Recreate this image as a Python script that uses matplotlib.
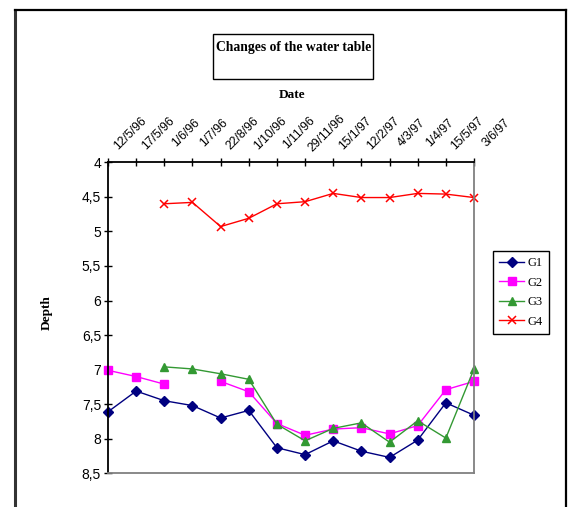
import numpy as np
import matplotlib
matplotlib.use('Agg')
import matplotlib.pyplot as plt
import matplotlib.transforms as mtransforms
from matplotlib.patches import Rectangle

W, H = 569, 507

dates = ['12/5/96', '17/5/96', '1/6/96', '1/7/96', '22/8/96', '1/10/96', '1/11/96',
         '29/11/96', '15/1/97', '12/2/97', '4/3/97', '1/4/97', '15/5/97', '3/6/97']
nan = np.nan
g1 = [7.61, 7.31, 7.45, 7.52, 7.70, 7.59, 8.13, 8.23, 8.03, 8.18, 8.27, 8.02, 7.48, 7.66]
g2 = [7.01, 7.10, 7.21, nan, 7.17, 7.32, 7.78, 7.95, 7.86, 7.84, 7.93, 7.81, 7.29, 7.17]
g3 = [nan, nan, 6.96, 6.99, 7.06, 7.14, 7.79, 8.03, 7.85, 7.77, 8.05, 7.74, 7.99, 6.99]
g4 = [nan, nan, 4.60, 4.58, 4.93, 4.81, 4.60, 4.57, 4.45, 4.51, 4.51, 4.45, 4.46, 4.51]
yticks = [4, 4.5, 5, 5.5, 6, 6.5, 7, 7.5, 8, 8.5]
ytick_labels = ['4', '4,5', '5', '5,5', '6', '6,5', '7', '7,5', '8', '8,5']

fig = plt.figure(figsize=(W / 100, H / 100), dpi=100)

# outer frame
fig.add_artist(plt.Line2D([15 / W, 15 / W], [0, 1 - 10 / H], color='#333333', lw=2.2, transform=fig.transFigure))
fig.add_artist(plt.Line2D([15 / W, 566 / W], [1 - 10 / H, 1 - 10 / H], color='black', lw=1.6, transform=fig.transFigure))
fig.add_artist(plt.Line2D([566 / W, 566 / W], [0, 1 - 10 / H], color='black', lw=1.6, transform=fig.transFigure))

# title box
fig.add_artist(Rectangle((213 / W, 1 - 79 / H), 160 / W, 45 / H, fill=False, ec='black', lw=1,
                         transform=fig.transFigure))
fig.text(294 / W, 1 - 47 / H, 'Changes of the water table', ha='center', va='center',
         family='Liberation Serif', weight='bold', fontsize=9.8)

ax = fig.add_axes([108 / W, 1 - 473.3 / H, 366 / W, 311 / H])
x = np.arange(len(dates))
ax.plot(x, g1, color='#000080', marker='D', ms=4.8, lw=1, label='G1', clip_on=False)
ax.plot(x, g2, color='#FF00FF', marker='s', ms=5.5, lw=1, label='G2', clip_on=False)
ax.plot(x, g3, color='#339933', marker='^', ms=6, lw=1, label='G3', clip_on=False)
ax.plot(x, g4, color='#FF0000', marker='x', ms=6, mew=1.1, lw=1, label='G4', clip_on=False)

ax.set_xlim(0, len(dates) - 1)
ax.set_ylim(8.5, 4)
ax.xaxis.tick_top()
ax.set_xticks(x)
ax.set_xticklabels([])
# rotated date labels, centred a little up and right of each tick
shift = mtransforms.ScaledTranslation(22 / 100, 29 / 100, fig.dpi_scale_trans)
for xi, d in zip(x, dates):
    ax.text(xi, 1, d, transform=ax.get_xaxis_transform() + shift, rotation=45,
            rotation_mode='anchor', ha='center', va='center',
            family='Liberation Sans', fontsize=8.8, clip_on=False)
ax.set_yticks(yticks)
ax.set_yticklabels(ytick_labels, family='Liberation Sans', fontsize=10)
ax.tick_params(axis='both', direction='inout', length=6, width=1, color='black')
ax.tick_params(axis='y', pad=2)

ax.spines['top'].set_color('black')
ax.spines['left'].set_color('black')
ax.spines['right'].set_color('#808080')
ax.spines['bottom'].set_color('#808080')
for s in ax.spines.values():
    s.set_linewidth(1.3)

fig.text(292 / W, 1 - 95 / H, 'Date', ha='center', va='center',
         family='Liberation Serif', weight='bold', fontsize=9.5)
fig.text(47 / W, 1 - 313 / H, 'Depth', rotation=90, ha='center', va='center',
         family='Liberation Serif', weight='bold', fontsize=9.5)

leg = ax.legend(loc='upper left', bbox_to_anchor=(493 / W, 1 - 251 / H), bbox_transform=fig.transFigure,
                prop={'family': 'Liberation Serif', 'size': 9}, fancybox=False, framealpha=1,
                edgecolor='black', handlelength=2.0, labelspacing=0.6, borderpad=0.5,
                handletextpad=0.3, borderaxespad=0)
leg.get_frame().set_linewidth(1)

fig.savefig('out.png', dpi=100)
